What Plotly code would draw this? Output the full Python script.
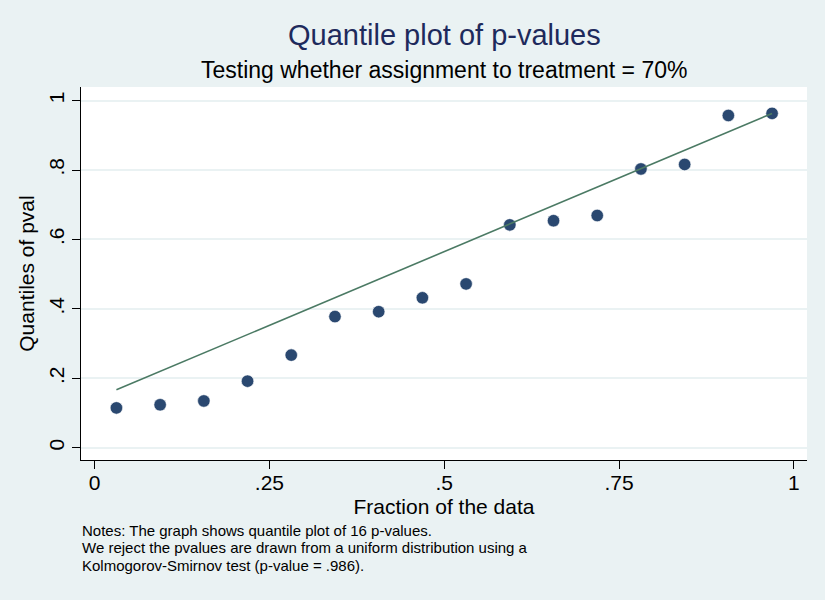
import plotly.graph_objects as go

# Data
fractions = [0.03125, 0.09375, 0.15625, 0.21875, 0.28125, 0.34375, 0.40625, 0.46875,
             0.53125, 0.59375, 0.65625, 0.71875, 0.78125, 0.84375, 0.90625, 0.96875]
pvals = [0.115, 0.124, 0.135, 0.192, 0.267, 0.378, 0.392, 0.432,
         0.472, 0.642, 0.654, 0.669, 0.803, 0.816, 0.957, 0.963]
ref_x = [0.03125, 0.96875]
ref_y = [0.167, 0.963]
x_ticks = [0, 0.25, 0.5, 0.75, 1]
x_ticklabels = ["0", ".25", ".5", ".75", "1"]
y_ticks = [0, 0.2, 0.4, 0.6, 0.8, 1]
y_ticklabels = ["0", ".2", ".4", ".6", ".8", "1"]
note_lines = [
    "Notes: The graph shows quantile plot of 16 p-values.",
    "We reject the pvalues are drawn from a uniform distribution using a",
    "Kolmogorov-Smirnov test (p-value = .986).",
]

FONT = "Liberation Sans, Arial, Helvetica, sans-serif"
BG = "#EAF2F3"

fig = go.Figure()
fig.add_trace(go.Scatter(x=fractions, y=pvals, mode="markers",
                         marker=dict(size=12.5, color="#2A4870", line=dict(color="white", width=0.6)),
                         showlegend=False, hoverinfo="x+y"))
fig.add_trace(go.Scatter(x=ref_x, y=ref_y, mode="lines",
                         line=dict(color="#4B7A64", width=1.6),
                         showlegend=False))

annotations = [
    dict(text="Quantile plot of p-values", xref="paper", yref="paper",
         x=0.5, y=1, yshift=52, yanchor="middle", showarrow=False,
         font=dict(size=29, color="#1E2A5C", family=FONT)),
    dict(text="Testing whether assignment to treatment = 70%", xref="paper", yref="paper",
         x=0.5, y=1, yshift=17, yanchor="middle", showarrow=False,
         font=dict(size=23, color="black", family=FONT)),
]
for i, line in enumerate(note_lines):
    annotations.append(dict(text=line, xref="paper", yref="paper", x=0, y=0,
                            xanchor="left", yanchor="middle", xshift=0, borderpad=0,
                            yshift=-70 - 17.5 * i, showarrow=False, align="left",
                            font=dict(size=15, color="black", family=FONT)))

fig.update_layout(
    width=825, height=600,
    paper_bgcolor=BG, plot_bgcolor="white",
    margin=dict(l=81, r=18, t=87, b=140),
    font=dict(family=FONT, color="black"),
    xaxis=dict(range=[-0.0194, 1.0187], tickvals=x_ticks, ticktext=x_ticklabels,
               showgrid=False, zeroline=False, showline=True, linecolor="black", linewidth=1,
               ticks="outside", ticklen=8, tickcolor="black", tickfont=dict(size=21),
               ticklabelstandoff=-4,
               title=dict(text="Fraction of the data", font=dict(size=21), standoff=6)),
    yaxis=dict(range=[-0.035, 1.039], tickvals=y_ticks, ticktext=y_ticklabels,
               showgrid=True, gridcolor=BG, gridwidth=1.5, zeroline=False,
               showline=True, linecolor="black", linewidth=1,
               ticks="outside", ticklen=8, tickcolor="black", tickangle=-90,
               tickfont=dict(size=21),
               title=dict(text="Quantiles of pval", font=dict(size=21), standoff=4)),
    annotations=annotations,
)

fig.write_html("out.html")
